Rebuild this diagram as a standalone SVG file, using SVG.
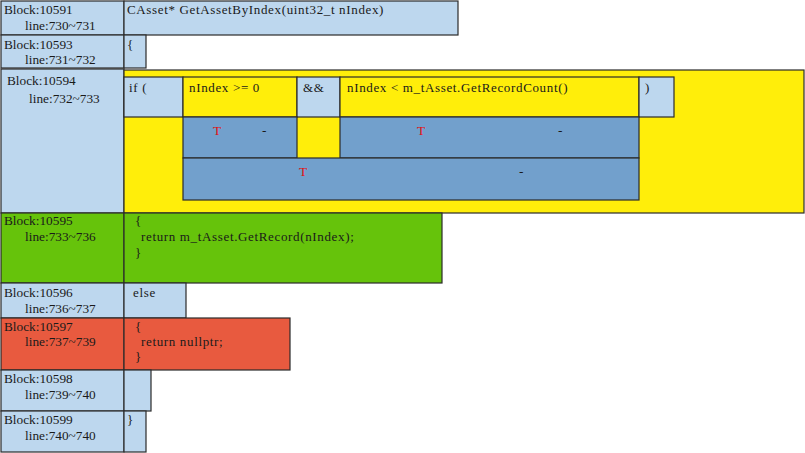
<svg xmlns="http://www.w3.org/2000/svg" width="805" height="453" viewBox="0 0 805 453">
<style>
  rect { stroke: #2b2b2b; stroke-width: 1.2; }
  .lb { fill: #bdd7ee; }
  .yl { fill: #ffee0a; }
  .mb { fill: #72a0cc; }
  .gr { fill: #66c30b; }
  .rd { fill: #e85a3f; }
  text { font-family: "Liberation Serif", "DejaVu Serif", serif; font-size: 13.3px; fill: #1a1a1a; }
  .c { font-size: 13px; letter-spacing: 0.65px; }
  .t { fill: #e01010; }
</style>

<g id="b10591">
  <rect class="lb" x="1" y="1" width="123" height="34"/>
  <rect class="lb" x="124" y="1" width="334" height="34"/>
  <text x="4" y="14">Block:10591</text>
  <text x="25" y="30">line:730~731</text>
  <text class="c" x="127" y="14">CAsset* GetAssetByIndex(uint32_t nIndex)</text>
</g>

<g id="b10593">
  <rect class="lb" x="1" y="35" width="123" height="33"/>
  <rect class="lb" x="124" y="35" width="22" height="33"/>
  <text x="4" y="49">Block:10593</text>
  <text x="25" y="64">line:731~732</text>
  <text class="c" x="127" y="49">{</text>
</g>

<g id="b10594">
  <rect class="lb" x="1" y="69" width="123" height="144"/>
  <rect class="yl" x="124" y="70" width="680" height="143"/>
  <text x="7" y="85">Block:10594</text>
  <text x="29" y="103">line:732~733</text>
  <g id="cond">
    <rect class="lb" x="124" y="77" width="59" height="40"/>
    <rect class="yl" x="183" y="77" width="114" height="40"/>
    <rect class="lb" x="297" y="77" width="43" height="40"/>
    <rect class="yl" x="340" y="77" width="299" height="40"/>
    <rect class="lb" x="639" y="77" width="35" height="40"/>
    <text class="c" x="129" y="92">if (</text>
    <text class="c" x="189" y="92">nIndex &gt;= 0</text>
    <text class="c" x="303" y="92">&amp;&amp;</text>
    <text class="c" x="347" y="92">nIndex &lt; m_tAsset.GetRecordCount()</text>
    <text class="c" x="645" y="92">)</text>
  </g>
  <g id="eval">
    <rect class="mb" x="183" y="117" width="114" height="41"/>
    <rect class="mb" x="340" y="117" width="299" height="41"/>
    <rect class="mb" x="183" y="158" width="456" height="42"/>
    <text class="t" x="213" y="135">T</text>
    <text x="262" y="135">-</text>
    <text class="t" x="417" y="135">T</text>
    <text x="558" y="135">-</text>
    <text class="t" x="299" y="176">T</text>
    <text x="519" y="176">-</text>
  </g>
</g>

<g id="b10595">
  <rect class="gr" x="1" y="213" width="123" height="70"/>
  <rect class="gr" x="124" y="213" width="318" height="70"/>
  <text x="4" y="225">Block:10595</text>
  <text x="25" y="241">line:733~736</text>
  <text class="c" x="135" y="225">{</text>
  <text class="c" x="141" y="241">return m_tAsset.GetRecord(nIndex);</text>
  <text class="c" x="135" y="257">}</text>
</g>

<g id="b10596">
  <rect class="lb" x="1" y="283" width="123" height="35"/>
  <rect class="lb" x="124" y="283" width="62" height="35"/>
  <text x="4" y="297">Block:10596</text>
  <text x="25" y="313">line:736~737</text>
  <text class="c" x="133" y="297">else</text>
</g>

<g id="b10597">
  <rect class="rd" x="1" y="318" width="123" height="52"/>
  <rect class="rd" x="124" y="318" width="166" height="52"/>
  <text x="4" y="331">Block:10597</text>
  <text x="25" y="346">line:737~739</text>
  <text class="c" x="135" y="331">{</text>
  <text class="c" x="141" y="346">return nullptr;</text>
  <text class="c" x="135" y="361">}</text>
</g>

<g id="b10598">
  <rect class="lb" x="1" y="370" width="123" height="41"/>
  <rect class="lb" x="124" y="370" width="27" height="41"/>
  <text x="4" y="383">Block:10598</text>
  <text x="25" y="399">line:739~740</text>
</g>

<g id="b10599">
  <rect class="lb" x="1" y="411" width="123" height="41"/>
  <rect class="lb" x="124" y="411" width="22" height="41"/>
  <text x="4" y="424">Block:10599</text>
  <text x="25" y="440">line:740~740</text>
  <text class="c" x="127" y="424">}</text>
</g>

<g id="connectors"/>
</svg>
